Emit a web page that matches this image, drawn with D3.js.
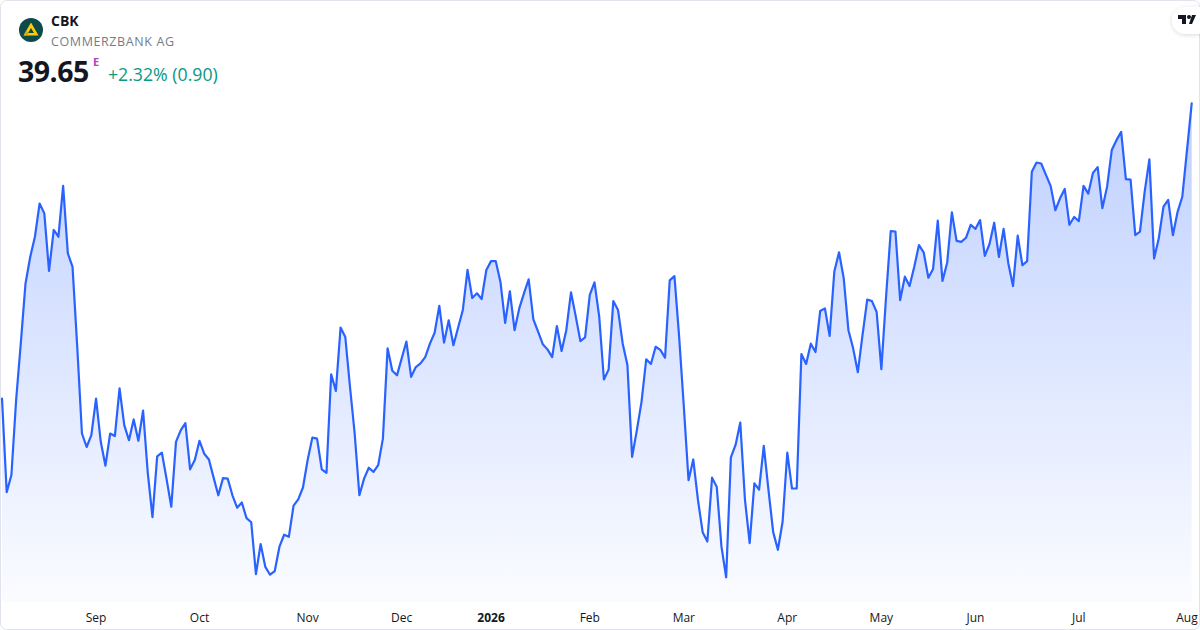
<!DOCTYPE html>
<html>
<head>
<meta charset="utf-8">
<script src="https://cdn.jsdelivr.net/npm/d3@7/dist/d3.min.js"></script>
<style>
  html, body { margin: 0; padding: 0; background: #ffffff; }
  svg { display: block; font-family: "Open Sans", "Noto Sans", sans-serif; }
</style>
</head>
<body>
<svg id="chart" width="1200" height="630"></svg>
<script>
// ---- Data ----
const ticker = "CBK";
const companyName = "COMMERZBANK AG";
const lastPrice = "39.65";
const changeText = "+2.32% (0.90)";

// Daily closing prices (EUR), one per trading day, Aug 2025 – Aug 2026
const closes = [
  33.96, 32.16, 32.49, 33.93, 35.03, 36.18, 36.69, 37.08, 37.72, 37.53,
  36.42, 37.21, 37.08, 38.06, 36.76, 36.50, 34.96, 33.29, 33.03, 33.26,
  33.96, 33.13, 32.67, 33.29, 33.24, 34.16, 33.45, 33.16, 33.56, 33.15,
  33.73, 32.53, 31.68, 32.85, 32.92, 32.41, 31.88, 33.13, 33.35, 33.49,
  32.60, 32.78, 33.15, 32.90, 32.79, 32.44, 32.10, 32.43, 32.42, 32.10,
  31.86, 31.96, 31.66, 31.58, 30.58, 31.16, 30.72, 30.57, 30.64, 31.11,
  31.34, 31.30, 31.90, 32.02, 32.25, 32.78, 33.21, 33.19, 32.60, 32.53,
  34.43, 34.11, 35.33, 35.15, 34.19, 33.29, 32.10, 32.42, 32.63, 32.55,
  32.68, 33.19, 34.93, 34.50, 34.41, 34.74, 35.06, 34.38, 34.57, 34.64,
  34.76, 35.02, 35.23, 35.75, 35.04, 35.47, 34.99, 35.33, 35.67, 36.44,
  35.90, 35.99, 35.88, 36.44, 36.61, 36.61, 36.21, 35.42, 36.03, 35.28,
  35.70, 35.99, 36.26, 35.49, 35.25, 35.01, 34.91, 34.76, 35.36, 34.88,
  35.28, 36.01, 35.55, 35.07, 35.14, 35.96, 36.20, 35.54, 34.33, 34.52,
  35.84, 35.67, 35.02, 34.61, 32.84, 33.35, 33.90, 34.72, 34.63, 34.96,
  34.90, 34.75, 36.24, 36.32, 35.15, 33.80, 32.39, 32.79, 32.01, 31.39,
  31.21, 32.44, 32.26, 31.11, 30.52, 32.83, 33.07, 33.50, 32.01, 31.18,
  32.33, 32.21, 33.05, 32.20, 31.39, 31.05, 31.59, 32.92, 32.23, 32.23,
  34.82, 34.63, 35.02, 34.86, 35.65, 35.70, 35.17, 36.41, 36.78, 36.28,
  35.28, 34.93, 34.47, 35.19, 35.87, 35.84, 35.63, 34.53, 35.92, 37.19,
  37.18, 35.86, 36.31, 36.13, 36.50, 36.92, 36.78, 36.29, 36.46, 37.39,
  36.23, 36.58, 37.55, 37.00, 36.98, 37.06, 37.31, 37.23, 37.40, 36.71,
  36.94, 37.35, 36.69, 37.23, 36.57, 36.13, 37.10, 36.53, 36.61, 38.33,
  38.51, 38.49, 38.27, 38.06, 37.59, 37.82, 38.00, 37.31, 37.46, 37.38,
  38.06, 37.91, 38.31, 38.42, 37.63, 38.04, 38.75, 38.94, 39.10, 38.19,
  38.18, 37.11, 37.18, 37.95, 38.57, 36.66, 37.05, 37.66, 37.79, 37.11,
  37.56, 37.85, 38.75, 39.65
];

// Month tick labels and the trading-day index they sit on
const tickLabels = ["Sep", "Oct", "Nov", "Dec", "2026", "Feb", "Mar", "Apr", "May", "Jun", "Jul", "Aug"];
const tickIndex  = [20, 42, 65, 85, 104, 125, 145, 167, 187, 207, 229, 252];
const tickBold   = [false, false, false, false, true, false, false, false, false, false, false, false];

// ---- Drawing ----
const W = 1200, H = 630;
const svg = d3.select("#chart");

const defs = svg.append("defs");
const grad = defs.append("linearGradient")
  .attr("id", "areaGrad").attr("x1", 0).attr("y1", 0).attr("x2", 0).attr("y2", 1);
grad.append("stop").attr("offset", "0%").attr("stop-color", "#2962ff").attr("stop-opacity", 0.3);
grad.append("stop").attr("offset", "100%").attr("stop-color", "#2962ff").attr("stop-opacity", 0.02);

const shadow = defs.append("filter").attr("id", "pillShadow")
  .attr("x", "-50%").attr("y", "-50%").attr("width", "200%").attr("height", "200%");
shadow.append("feDropShadow").attr("dx", 0).attr("dy", 1).attr("stdDeviation", 2)
  .attr("flood-color", "#000").attr("flood-opacity", 0.15);

// frame
svg.append("rect")
  .attr("x", 0.5).attr("y", 0.5).attr("width", W - 1).attr("height", H - 1)
  .attr("rx", 6).attr("fill", "#ffffff").attr("stroke", "#e0e3eb");

const x = d3.scaleLinear().domain([0, closes.length - 1]).range([2, 1191.7]);
const y = d3.scaleLinear().domain(d3.extent(closes)).range([577.3, 103.3]);
const baseY = 602;

const area = d3.area()
  .x((d, i) => x(i))
  .y0(baseY)
  .y1(d => y(d));
const line = d3.line()
  .x((d, i) => x(i))
  .y(d => y(d));

svg.append("path").datum(closes)
  .attr("d", area).attr("fill", "url(#areaGrad)");
svg.append("path").datum(closes)
  .attr("d", line).attr("fill", "none")
  .attr("stroke", "#2962ff").attr("stroke-width", 2.2)
  .attr("stroke-linejoin", "round").attr("stroke-linecap", "round");

// x axis labels
const axisG = svg.append("g");
axisG.selectAll("text").data(tickLabels).enter().append("text")
  .attr("x", (d, i) => x(tickIndex[i]))
  .attr("y", 622)
  .attr("text-anchor", "middle")
  .attr("font-size", 12)
  .attr("font-weight", (d, i) => tickBold[i] ? 700 : 400)
  .attr("fill", "#131722")
  .text(d => d);

// header: logo
const logo = svg.append("g").attr("transform", "translate(31,30)");
logo.append("circle").attr("r", 12).attr("fill", "#0d4a4a");
logo.append("path")
  .attr("d", "M0,-7.5 L7.5,5.5 L-7.5,5.5 Z M0,-2 L-3,3 L3,3 Z")
  .attr("fill", "#ffcc00").attr("fill-rule", "evenodd");
logo.append("path")
  .attr("d", "M-7.5,5.5 L-4.5,0.3 L-2.3,3.4 L-3.2,5.5 Z")
  .attr("fill", "#e0a800");

svg.append("text").attr("x", 51).attr("y", 26)
  .attr("font-size", 14).attr("font-weight", 700).attr("fill", "#131722")
  .text(ticker);
svg.append("text").attr("x", 51).attr("y", 46)
  .attr("font-size", 12.5).attr("fill", "#787b86").attr("letter-spacing", 0.6)
  .text(companyName);

svg.append("text").attr("x", 18).attr("y", 82)
  .attr("font-size", 28.5).attr("font-weight", 700).attr("fill", "#131722")
  .attr("letter-spacing", -0.5)
  .text(lastPrice);
svg.append("text").attr("x", 93).attr("y", 66)
  .attr("font-size", 11).attr("font-weight", 700).attr("fill", "#ab47bc")
  .text("E");
svg.append("text").attr("x", 108).attr("y", 81)
  .attr("font-size", 17.7).attr("fill", "#089981")
  .text(changeText);

// TradingView badge
const badge = svg.append("g");
badge.append("rect")
  .attr("x", 1172).attr("y", 7).attr("width", 40).attr("height", 27).attr("rx", 13.5)
  .attr("fill", "#ffffff").attr("filter", "url(#pillShadow)");
badge.append("path")
  .attr("d", "M1178,15 h8 v9 h-4 v-5 h-4 Z M1192,15 h4 l-4,9 h-3 Z")
  .attr("fill", "#131722");
badge.append("circle").attr("cx", 1189).attr("cy", 17).attr("r", 2).attr("fill", "#131722");
</script>
</body>
</html>
